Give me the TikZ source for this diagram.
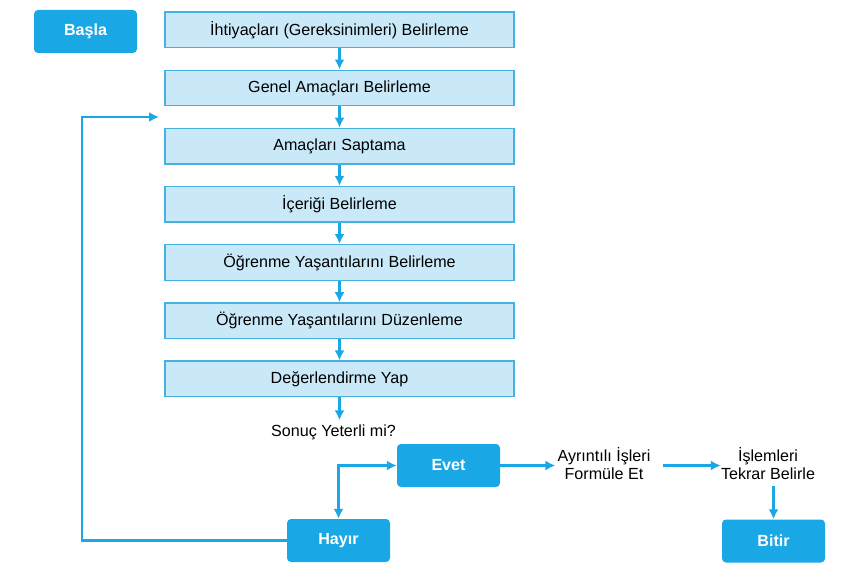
\documentclass[tikz,border=0pt]{standalone}
\usepackage{fontspec}
\setmainfont{Liberation Sans}
\usetikzlibrary{arrows.meta}
\definecolor{btn}{HTML}{1AA7E5}
\definecolor{lbox}{HTML}{C9E9F9}
\definecolor{lborder}{HTML}{45B2E2}
\begin{document}
\begin{tikzpicture}[x=1pt,y=-1pt,
  every node/.style={font=\fontsize{16.1}{18}\selectfont},
  stepbox/.style={draw=lborder, fill=lbox, line width=1.3pt, minimum width=349pt, minimum height=35.5pt, inner sep=0},
  btnbox/.style={fill=btn, rounded corners=4pt, minimum width=103pt, minimum height=43pt, text=white, font=\fontsize{16.1}{18}\selectfont\bfseries},
  arr/.style={draw=btn, line width=2.4pt, -{Latex[length=10pt,width=10pt]}},
  lbl/.style={align=center, inner sep=0}
]
\useasboundingbox (0,0) rectangle (858,578);
\node[btnbox] (basla) at (85.5,31.5) {Başla};
\node[stepbox] (b1) at (339.5,29.75) {İhtiyaçları (Gereksinimleri) Belirleme};
\node[stepbox] (b2) at (339.5,87.9) {Genel Amaçları Belirleme};
\node[stepbox] (b3) at (339.5,146.1) {Amaçları Saptama};
\node[stepbox] (b4) at (339.5,204.3) {İçeriği Belirleme};
\node[stepbox] (b5) at (339.5,262.4) {Öğrenme Yaşantılarını Belirleme};
\node[stepbox] (b6) at (339.5,320.6) {Öğrenme Yaşantılarını Düzenleme};
\node[stepbox] (b7) at (339.5,378.8) {Değerlendirme Yap};
\node[lbl] (sonuc) at (333.5,432) {Sonuç Yeterli mi?};
\node[btnbox] (evet) at (448.5,465.5) {Evet};
\node[btnbox] (hayir) at (338.5,540.5) {Hayır};
\node[btnbox] (bitir) at (773.5,541) {Bitir};
\node[lbl] (ayr) at (604,464) {Ayrıntılı İşleri\\Formüle Et};
\node[lbl] (isl) at (768,464) {İşlemleri\\Tekrar Belirle};
\coordinate (lc) at (82,117);
\coordinate (lp) at (159,117);
\coordinate (j) at (hayir.north |- evet.west);

\foreach \a/\b in {b1/b2,b2/b3,b3/b4,b4/b5,b5/b6,b6/b7}
  \draw[arr] (\a.south) -- (\b.north);
\draw[arr, shorten >=4pt] (b7.south) -- (b7.south |- sonuc.north);
\draw[arr, shorten >=2pt] (evet.east) -- (ayr.west |- evet.east);
\draw[arr, shorten <=12pt] (ayr.east |- evet.east) -- (isl.west |- evet.east);
\draw[arr, shorten <=6pt] (isl.south -| bitir.north) -- (bitir.north);
\draw[arr] (hayir.west) -| (lc) -- (lp);
\draw[draw=btn, line width=2.4pt, {Latex[length=10pt,width=10pt]}-{Latex[length=10pt,width=10pt]}] (hayir.north) -- (j) -- (evet.west);
\end{tikzpicture}
\end{document}
